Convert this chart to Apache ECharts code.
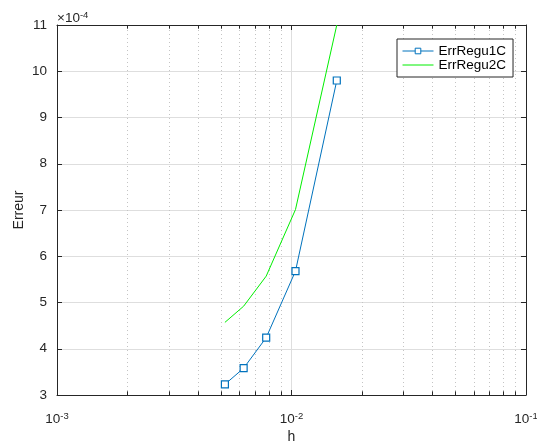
<!DOCTYPE html>
<html>
<head>
<meta charset="utf-8">
<script src="https://cdn.jsdelivr.net/npm/echarts@6/dist/echarts.min.js"></script>
<style>html,body{margin:0;padding:0;background:#fff;}#c{width:537px;height:443px;}</style>
</head>
<body>
<div id="c"></div>
<script>
const hValues = [0.0052, 0.00625, 0.0078, 0.0104, 0.0156];
const errRegu1C = [3.23, 3.58, 4.24, 5.68, 9.80];
const errRegu2C = [4.57, 4.92, 5.57, 7.01, 11.0];
const seriesNames = ['ErrRegu1C', 'ErrRegu2C'];
const xMinorGrid = [0.002,0.003,0.004,0.005,0.006,0.007,0.008,0.009,0.02,0.03,0.04,0.05,0.06,0.07,0.08,0.09];
const yMin = 3, yMax = 11, yInterval = 1;
const minorTickLen = 0.08;

const FONT = '"Liberation Sans", Helvetica, Arial, sans-serif';
const TXT = '#262626';
const BLUE = '#0072BD', GREEN = '#00ee00';
const chart = echarts.init(document.getElementById('c'), null, {renderer:'canvas'});

function xLabel(v){
  const e = Math.round(Math.log10(v));
  if (Math.abs(Math.log10(v) - e) > 1e-6) return '';
  return '10{sup|' + e + '}';
}

const minorLines = xMinorGrid.map(v => [{coord: [v, yMin]}, {coord: [v, yMax]}]);
const tickStyle = {type: 'solid', color: TXT, width: 1};
const minorTicks = [];
xMinorGrid.forEach(v => {
  minorTicks.push([{coord: [v, yMin], lineStyle: tickStyle}, {coord: [v, yMin + minorTickLen]}]);
  minorTicks.push([{coord: [v, yMax], lineStyle: tickStyle}, {coord: [v, yMax - minorTickLen]}]);
});

const option = {
  backgroundColor: '#fff',
  animation: false,
  grid: {left: 57, right: 11, top: 25, bottom: 48, containLabel: false, outerBoundsMode: 'none'},
  legend: {
    data: [
      {name: seriesNames[0], itemStyle: {color: '#fff', borderColor: BLUE, borderWidth: 1}, lineStyle: {color: BLUE, width: 1}},
      {name: seriesNames[1], itemStyle: {opacity: 0}, lineStyle: {color: GREEN, width: 1, opacity: 1}}
    ],
    orient: 'vertical',
    left: 397, top: 39,
    itemWidth: 31, itemHeight: 7, itemGap: 0,
    padding: [5, 7, 5, 5],
    backgroundColor: '#fff',
    borderColor: '#262626', borderWidth: 1,
    textStyle: {fontFamily: FONT, fontSize: 13.5, lineHeight: 14, color: '#000'}
  },
  xAxis: [{
    type: 'log', logBase: 10, min: 0.001, max: 0.1,
    name: 'h', nameLocation: 'middle', nameGap: 35, nameMoveOverlap: false,
    nameTextStyle: {fontFamily: FONT, fontSize: 14, color: TXT},
    axisLine: {lineStyle: {color: TXT, width: 1}},
    axisTick: {inside: true, length: 5, lineStyle: {color: TXT}},
    axisLabel: {
      formatter: xLabel, margin: 16,
      fontFamily: FONT, fontSize: 13.5, color: TXT,
      rich: {
        sup: {fontFamily: FONT, fontSize: 9.5, color: TXT, verticalAlign: 'bottom', padding: [0,0,7,0]}
      }
    },
    splitLine: {show: true, lineStyle: {color: '#dedede', width: 1}}
  }, {
    type: 'log', logBase: 10, min: 0.001, max: 0.1, position: 'top',
    axisLine: {lineStyle: {color: TXT, width: 1}},
    axisTick: {inside: true, length: 5, lineStyle: {color: TXT}},
    axisLabel: {show: false}, splitLine: {show: false}
  }],
  yAxis: [{
    type: 'value', min: yMin, max: yMax, interval: yInterval,
    name: 'Erreur', nameLocation: 'middle', nameGap: 31, nameRotate: 90, nameMoveOverlap: false,
    nameTextStyle: {fontFamily: FONT, fontSize: 14, color: TXT},
    axisLine: {show: true, lineStyle: {color: TXT, width: 1}},
    axisTick: {show: true, inside: true, length: 5, lineStyle: {color: TXT}},
    axisLabel: {fontFamily: FONT, fontSize: 13.5, color: TXT, margin: 10},
    splitLine: {show: true, lineStyle: {color: '#dedede', width: 1}}
  }, {
    type: 'value', min: yMin, max: yMax, interval: yInterval, position: 'right',
    axisLine: {show: true, lineStyle: {color: TXT, width: 1}},
    axisTick: {show: true, inside: true, length: 5, lineStyle: {color: TXT}},
    axisLabel: {show: false}, splitLine: {show: false}
  }],
  graphic: [{
    type: 'text', left: 57, top: 10,
    style: {
      text: '×10{s|-4}',
      fontFamily: FONT, fontSize: 13.5, fill: TXT,
      rich: {
        s: {fontFamily: FONT, fontSize: 9.5, fill: TXT, verticalAlign: 'bottom', padding: [0,0,7,0]}
      }
    }
  }],
  series: [{
    name: seriesNames[0], type: 'line', z: 3,
    data: hValues.map((h, i) => [h, errRegu1C[i]]),
    lineStyle: {color: BLUE, width: 1},
    symbol: 'rect', symbolSize: 7, showAllSymbol: true,
    itemStyle: {color: '#ffffff', borderColor: BLUE, borderWidth: 1.2},
    clip: true,
    markLine: {
      silent: true, symbol: 'none', label: {show: false}, z: 1,
      lineStyle: {type: [1, 3], color: '#c4c4c4', width: 1},
      emphasis: {disabled: true},
      data: minorLines.concat(minorTicks)
    }
  }, {
    name: seriesNames[1], type: 'line', z: 3,
    data: hValues.map((h, i) => [h, errRegu2C[i]]),
    lineStyle: {color: GREEN, width: 1},
    itemStyle: {color: GREEN},
    symbol: 'none', clip: true
  }]
};
chart.setOption(option);
</script>
</body>
</html>
